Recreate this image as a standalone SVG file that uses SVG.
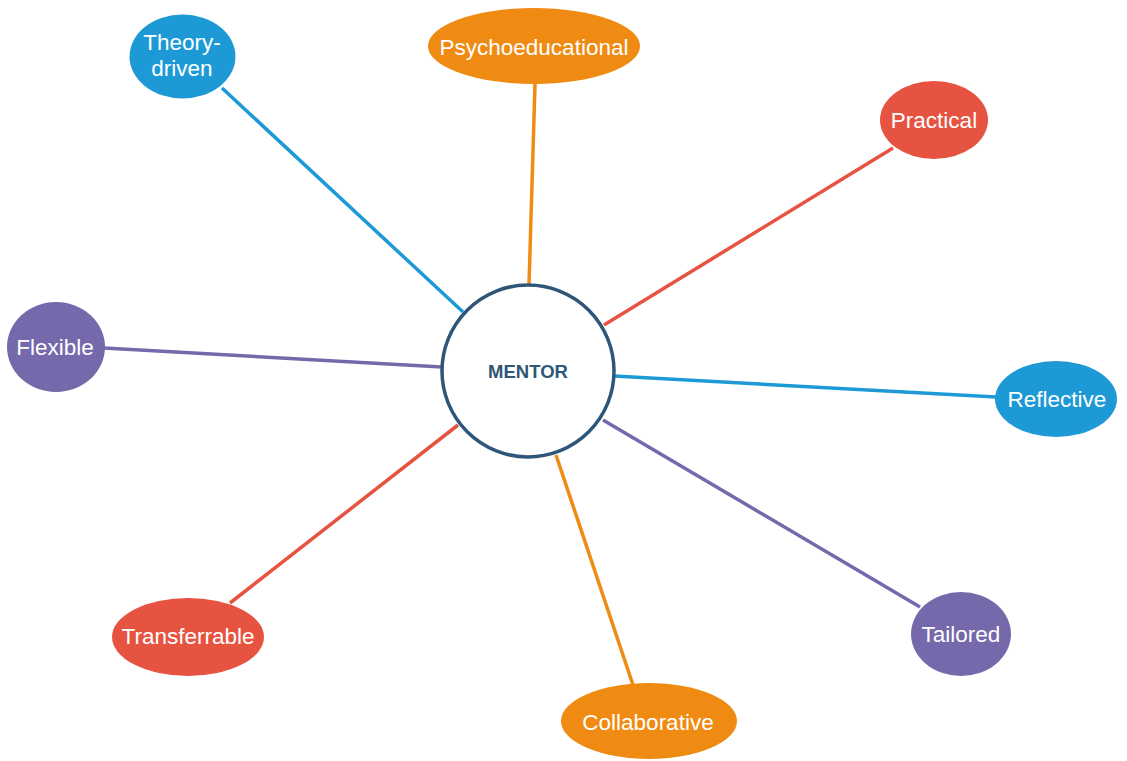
<svg xmlns="http://www.w3.org/2000/svg" width="1127" height="761" viewBox="0 0 1127 761">
<style>
.blue{fill:#1d9ad6}.orange{fill:#ef8b12}.red{fill:#e75341}.purple{fill:#7569ab}
.lbl{font-family:"Liberation Sans",Arial,sans-serif;font-size:22.5px;fill:#ffffff;text-anchor:middle}
.c{stroke-width:3.5;fill:none}
.cb{stroke:#1d9ad6}.co{stroke:#ef8b12}.cr{stroke:#e75341}.cp{stroke:#7569ab}
</style>
<rect width="1127" height="761" fill="#ffffff"/>
<g id="connectors">
<line class="c cb" x1="222" y1="88" x2="463" y2="312"/>
<line class="c co" x1="535" y1="84" x2="529" y2="285"/>
<line class="c cr" x1="893" y1="148" x2="604" y2="325"/>
<line class="c cp" x1="104" y1="348" x2="442" y2="367"/>
<line class="c cb" x1="614" y1="376" x2="996" y2="397"/>
<line class="c cp" x1="603" y1="420" x2="920" y2="607"/>
<line class="c co" x1="556" y1="455" x2="633" y2="685"/>
<line class="c cr" x1="458" y1="425" x2="230" y2="603"/>
</g>
<g id="mentor">
<circle cx="528" cy="371" r="86" fill="#ffffff" stroke="#2e5678" stroke-width="3.5"/>
<text x="528" y="378" style="font-family:'Liberation Sans',Arial,sans-serif;font-size:18.5px;font-weight:bold;fill:#2e5678;text-anchor:middle">MENTOR</text>
</g>
<g id="theory-driven">
<ellipse class="blue" cx="182.5" cy="56.5" rx="53" ry="42"/>
<text class="lbl" x="182" y="50">Theory-</text>
<text class="lbl" x="182" y="76">driven</text>
</g>
<g id="psychoeducational">
<ellipse class="orange" cx="534" cy="46" rx="106" ry="38"/>
<text class="lbl" x="534" y="55">Psychoeducational</text>
</g>
<g id="practical">
<ellipse class="red" cx="934" cy="120" rx="54" ry="39"/>
<text class="lbl" x="934" y="128">Practical</text>
</g>
<g id="flexible">
<ellipse class="purple" cx="56" cy="347" rx="49" ry="45"/>
<text class="lbl" x="55" y="355">Flexible</text>
</g>
<g id="reflective">
<ellipse class="blue" cx="1056" cy="399" rx="61" ry="38"/>
<text class="lbl" x="1057" y="407">Reflective</text>
</g>
<g id="transferrable">
<ellipse class="red" cx="188" cy="637" rx="76" ry="39"/>
<text class="lbl" x="188" y="644">Transferrable</text>
</g>
<g id="tailored">
<ellipse class="purple" cx="961" cy="634" rx="50" ry="42"/>
<text class="lbl" x="961" y="642">Tailored</text>
</g>
<g id="collaborative">
<ellipse class="orange" cx="649" cy="721" rx="88" ry="38"/>
<text class="lbl" x="648" y="730">Collaborative</text>
</g>
</svg>
